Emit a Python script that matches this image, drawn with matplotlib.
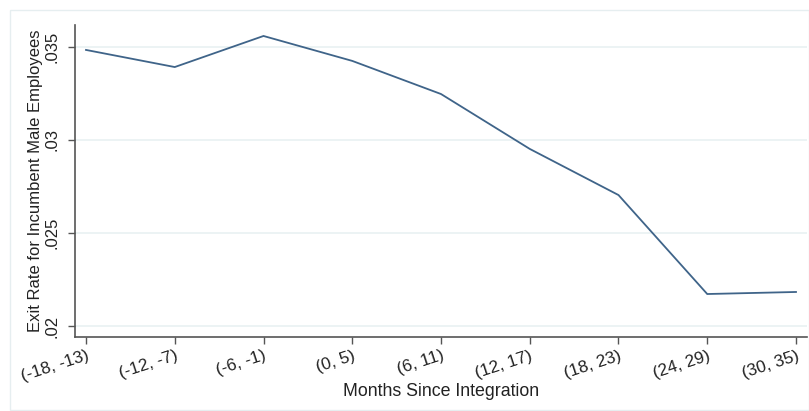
import matplotlib
matplotlib.use('Agg')
import matplotlib.pyplot as plt
from matplotlib.patches import Rectangle
import numpy as np

# ── Data ──
periods = ["(-18, -13)", "(-12, -7)", "(-6, -1)", "(0, 5)", "(6, 11)",
           "(12, 17)", "(18, 23)", "(24, 29)", "(30, 35)"]
exit_rate = [0.03484, 0.03392, 0.03559, 0.03425, 0.03247,
             0.02952, 0.02704, 0.02172, 0.02183]
y_ticks = [0.02, 0.025, 0.03, 0.035]
y_tick_labels = [".02", ".025", ".03", ".035"]

plt.rcParams['font.family'] = ['Liberation Sans', 'DejaVu Sans']

W, H = 809, 411
fig = plt.figure(figsize=(W / 100, H / 100), dpi=100)
fig.patch.set_facecolor("white")

# outer light frame (Stata graph region)
fig.patches.append(Rectangle((10 / W, 1 - 410 / H), (W - 10) / W, 400 / H,
                             transform=fig.transFigure, fill=False,
                             edgecolor="#e6eef0", linewidth=1.0))

# plot region in pixels
left, right, top, bottom = 75, 807, 25, 337
ax = fig.add_axes([left / W, 1 - bottom / H, (right - left) / W, (bottom - top) / H])

x = np.arange(len(periods))
ax.plot(x, exit_rate, color="#3f6489", linewidth=1.3, solid_joinstyle="miter")

ax.set_xlim(-0.124, len(periods) - 1 + 0.124)
ax.set_ylim(0.01941, 0.03618)

ax.set_yticks(y_ticks)
ax.set_yticklabels(y_tick_labels, rotation=90, va="center", fontsize=12)
ax.set_xticks(x)
ax.set_xticklabels(periods, rotation=18, ha="right", rotation_mode="anchor", fontsize=12.3)

ax.yaxis.grid(True, color="#e9f1f2", linewidth=1.2)
ax.set_axisbelow(True)

for side in ["top", "right"]:
    ax.spines[side].set_visible(False)
for side in ["left", "bottom"]:
    ax.spines[side].set_color("#555555")
    ax.spines[side].set_linewidth(1.2)

ax.tick_params(axis="both", direction="out", length=5, width=1, color="#555555",
               labelcolor="#222222")
ax.tick_params(axis="y", pad=6)
ax.tick_params(axis="x", pad=3)

ax.set_xlabel("Months Since Integration", fontsize=12.8, color="#222222", labelpad=-1)
ax.set_ylabel("Exit Rate for Incumbent Male Employees", fontsize=12,
              color="#222222", labelpad=1)

fig.savefig("out.png", dpi=100)
